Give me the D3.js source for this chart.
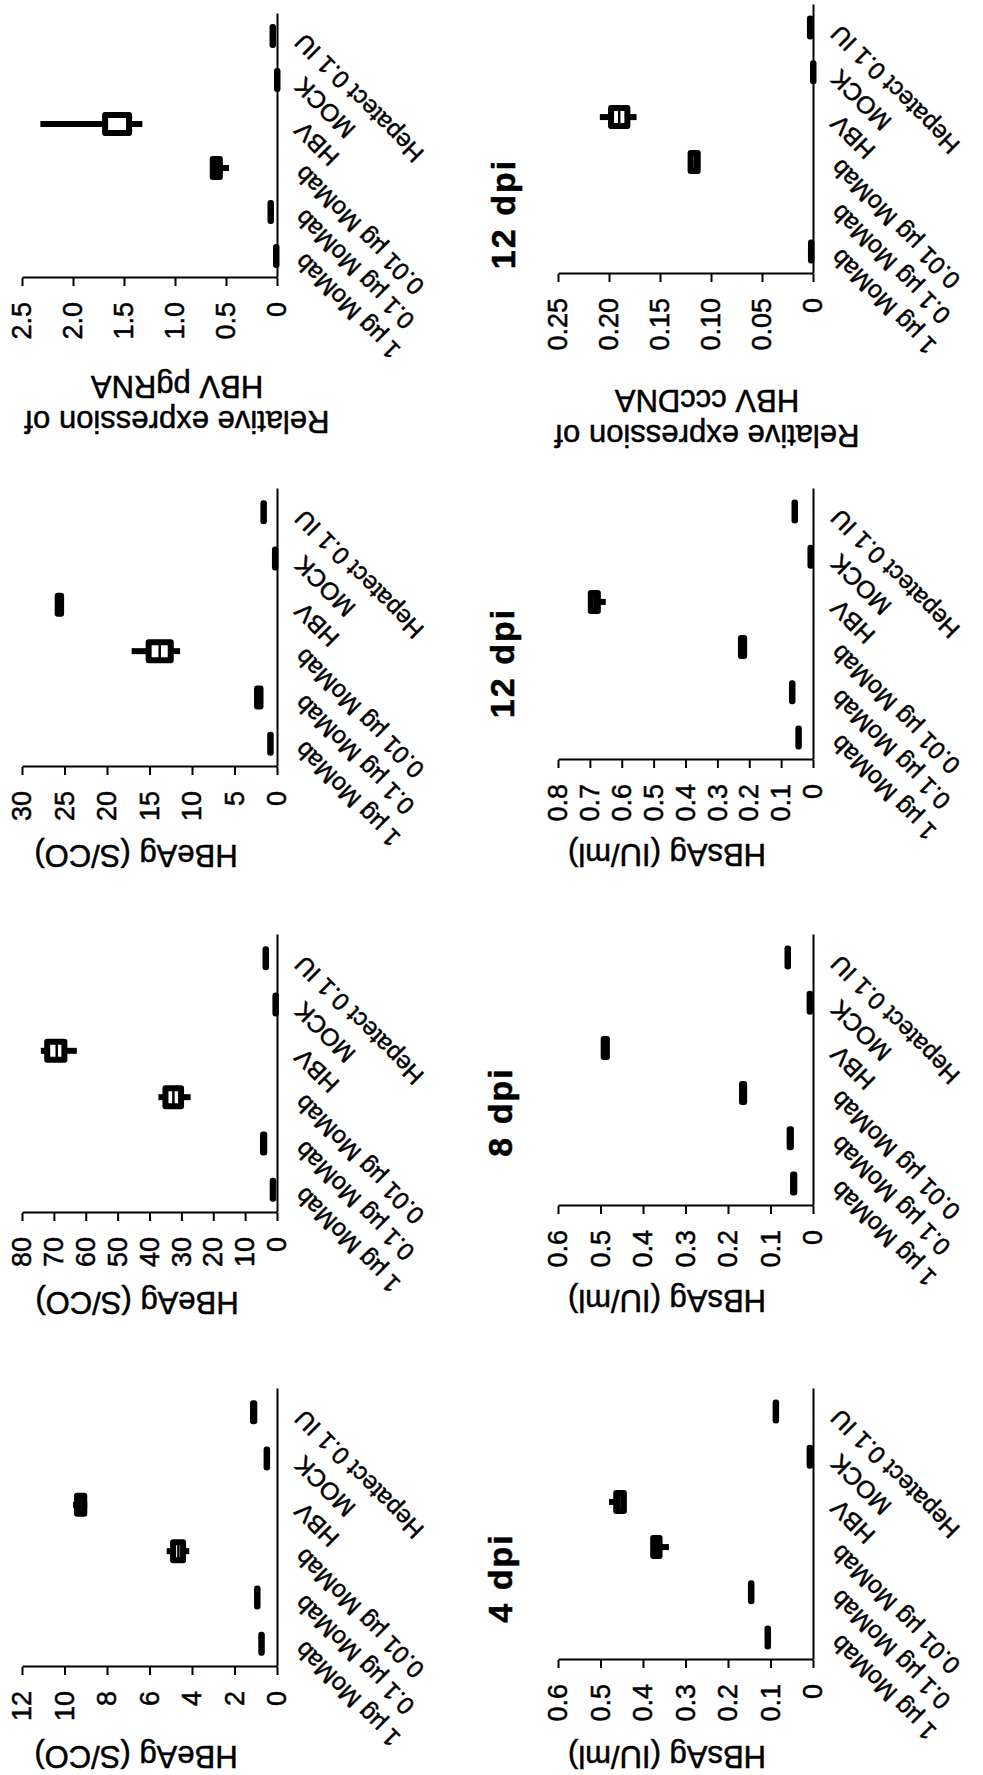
<!DOCTYPE html>
<html>
<head>
<meta charset="utf-8">
<script src="https://cdn.jsdelivr.net/npm/d3@7"></script>
<style>
  body { margin: 0; background: #fff; }
  text { stroke: #000; stroke-width: 0.5px; }
</style>
</head>
<body>
<script>
// groups, bottom to top along the category axis
var categories = ["1 µg MoMab", "0.1 µg MoMab", "0.01 µg MoMab", "HBV", "MOCK", "Hepatect 0.1 IU"];

// box stats per group: [min, q1, median, q3, max]
var hbeag4 = [
    [0.74, 0.74, 0.74, 0.74, 0.74],
    [0.94, 0.94, 0.94, 0.94, 0.94],
    [4.13, 4.42, 4.64, 4.89, 5.19],
    [8.93, 9.07, 9.25, 9.41, 9.6],
    [0.49, 0.49, 0.49, 0.49, 0.49],
    [1.07, 1.07, 1.1, 1.13, 1.13]
];
var hbsag4 = [
    [0.107, 0.107, 0.107, 0.107, 0.107],
    [0.146, 0.146, 0.146, 0.146, 0.146],
    [0.339, 0.361, 0.368, 0.376, 0.376],
    [0.445, 0.445, 0.455, 0.463, 0.48],
    [0.008, 0.008, 0.008, 0.008, 0.008],
    [0.088, 0.088, 0.088, 0.088, 0.088]
];
var hbeag8 = [
    [1.35, 1.35, 1.35, 1.35, 1.35],
    [4.0, 4.0, 4.2, 4.4, 4.4],
    [27.1, 30.1, 32.5, 35.0, 37.2],
    [62.8, 66.7, 69.1, 72.1, 74.1],
    [0.5, 0.5, 0.5, 0.5, 0.5],
    [3.6, 3.6, 3.6, 3.6, 3.6]
];
var hbsag8 = [
    [0.044, 0.044, 0.045, 0.047, 0.047],
    [0.052, 0.052, 0.053, 0.055, 0.055],
    [0.162, 0.162, 0.165, 0.167, 0.167],
    [0.485, 0.485, 0.489, 0.4925, 0.4925],
    [0.008, 0.008, 0.008, 0.008, 0.008],
    [0.06, 0.06, 0.06, 0.06, 0.06]
];
var hbeag12 = [
    [0.8, 0.8, 0.8, 0.8, 0.8],
    [1.94, 1.94, 2.1, 2.35, 2.35],
    [11.4, 12.5, 13.8, 15.1, 17.1],
    [25.4, 25.4, 25.6, 25.8, 25.8],
    [0.24, 0.24, 0.24, 0.24, 0.24],
    [1.6, 1.6, 1.6, 1.6, 1.6]
];
var hbsag12 = [
    [0.046, 0.046, 0.046, 0.046, 0.046],
    [0.066, 0.066, 0.066, 0.066, 0.066],
    [0.216, 0.216, 0.221, 0.226, 0.226],
    [0.65, 0.675, 0.685, 0.697, 0.70],
    [0.008, 0.008, 0.008, 0.008, 0.008],
    [0.058, 0.058, 0.058, 0.058, 0.058]
];
var pgrna12 = [
    [0.01, 0.01, 0.01, 0.01, 0.01],
    [0.064, 0.064, 0.064, 0.064, 0.064],
    [0.47, 0.56, 0.60, 0.63, 0.63],
    [1.32, 1.45, 1.46, 1.685, 2.32],
    [0, 0, 0, 0, 0],
    [0.044, 0.044, 0.044, 0.044, 0.044]
];
var cccdna12 = [
    [0.002, 0.002, 0.002, 0.002, 0.002],
    null,
    [0.113, 0.113, 0.116, 0.120, 0.120],
    [0.173, 0.182, 0.19, 0.198, 0.209],
    [0, 0, 0, 0, 0],
    [0.003, 0.003, 0.003, 0.003, 0.003]
];

var ticksHBeAg4 = [0, 2, 4, 6, 8, 10, 12];
var ticksHBeAg8 = [0, 10, 20, 30, 40, 50, 60, 70, 80];
var ticksHBeAg12 = [0, 5, 10, 15, 20, 25, 30];
var ticksHBsAg6 = [0, 0.1, 0.2, 0.3, 0.4, 0.5, 0.6];
var ticksHBsAg8 = [0, 0.1, 0.2, 0.3, 0.4, 0.5, 0.6, 0.7, 0.8];
var ticksPgRNA = [0, 0.5, 1.0, 1.5, 2.0, 2.5];
var ticksCccDNA = [0, 0.05, 0.10, 0.15, 0.20, 0.25];

var dpiTitles = ["4 dpi", "8 dpi", "12 dpi", "12 dpi"];

var FONT = "'Liberation Sans', Arial, Helvetica, sans-serif";

function fmtDec(n) {
    return function(d) { return d === 0 ? "0" : d3.format("." + n + "f")(d); };
}

// figure is built upright (1775 x 983) and turned a quarter turn to the left
var canvas = d3.select("body").append("svg")
    .attr("width", 983)
    .attr("height", 1775);

var root = canvas.append("g")
    .attr("transform", "translate(0,1775) rotate(-90)");

var panels = [
    {data: hbeag4, ticks: ticksHBeAg4, fmt: d3.format("d"), left: 108, right: 386, top: 22, bottom: 277,
        title: ["HBeAg (S/CO)"], tx: 18.5, ty: 136},
    {data: hbsag4, ticks: ticksHBsAg6, fmt: fmtDec(1), left: 115, right: 386, top: 558, bottom: 813,
        title: ["HBsAg (IU/ml)"], tx: 18.5, ty: 667},
    {data: hbeag8, ticks: ticksHBeAg8, fmt: d3.format("d"), left: 562, right: 840, top: 22, bottom: 277,
        title: ["HBeAg (S/CO)"], tx: 472, ty: 137},
    {data: hbsag8, ticks: ticksHBsAg6, fmt: fmtDec(1), left: 569, right: 840, top: 558, bottom: 813,
        title: ["HBsAg (IU/ml)"], tx: 474, ty: 667},
    {data: hbeag12, ticks: ticksHBeAg12, fmt: d3.format("d"), left: 1008, right: 1286, top: 22, bottom: 277,
        title: ["HBeAg (S/CO)"], tx: 919, ty: 136},
    {data: hbsag12, ticks: ticksHBsAg8, fmt: fmtDec(1), left: 1015, right: 1286, top: 558, bottom: 813,
        title: ["HBsAg (IU/ml)"], tx: 920, ty: 667},
    {data: pgrna12, ticks: ticksPgRNA, fmt: fmtDec(1), left: 1497, right: 1761, top: 22, bottom: 277,
        title: ["Relative expression of", "HBV pgRNA"], tx: 1370, ty: 177},
    {data: cccdna12, ticks: ticksCccDNA, fmt: fmtDec(2), left: 1501, right: 1770, top: 558, bottom: 813,
        title: ["Relative expression of", "HBV cccDNA"], tx: 1356, ty: 707}
];

var dpiPos = [{x: 197, y: 500}, {x: 663, y: 500}, {x: 1112, y: 502}, {x: 1561, y: 503}];

var boxW = 18;
var strokeW = 6;

panels.forEach(function(p) {
    var x = d3.scalePoint().domain(categories).range([p.left, p.right]).padding(0.5);
    var y = d3.scaleLinear().domain([0, d3.max(p.ticks)]).range([p.bottom, p.top]);
    var g = root.append("g");

    var yAxis = g.append("g")
        .attr("transform", "translate(" + p.left + ",0)")
        .call(d3.axisLeft(y).tickValues(p.ticks).tickSizeInner(8).tickSizeOuter(0)
            .tickPadding(16).tickFormat(p.fmt));
    yAxis.attr("font-size", 27).attr("font-family", FONT);
    yAxis.selectAll("path, line").attr("stroke-width", 2);
    yAxis.selectAll("text").attr("fill", "#000");

    var xAxis = g.append("g")
        .attr("transform", "translate(0," + p.bottom + ")")
        .call(d3.axisBottom(x).tickSize(0).tickSizeOuter(0).tickFormat(""));
    xAxis.selectAll("path").attr("stroke-width", 2);

    g.selectAll(".cat")
        .data(categories)
        .join("text")
        .attr("class", "cat")
        .attr("transform", function(d) {
            return "translate(" + (x(d) + 4) + "," + (p.bottom + 28) + ") rotate(-45)";
        })
        .attr("text-anchor", "end")
        .attr("font-family", FONT)
        .attr("font-size", 24.5)
        .text(function(d) { return d; });

    // y axis title, one or two lines
    var t = g.append("text")
        .attr("transform", "translate(" + p.tx + "," + p.ty + ") rotate(-90)")
        .attr("text-anchor", "middle")
        .attr("font-family", FONT)
        .attr("font-size", 31);
    p.title.forEach(function(line, i) {
        t.append("tspan")
            .attr("x", 0)
            .attr("dy", i === 0 ? (p.title.length === 1 ? "0.35em" : "-0.2em") : "1.15em")
            .text(line);
    });

    // boxes
    p.data.forEach(function(s, i) {
        if (!s) return;
        var cx = x(categories[i]);
        var bg = g.append("g");
        if (s[0] < s[1]) {
            bg.append("line")
                .attr("x1", cx).attr("x2", cx)
                .attr("y1", y(s[0])).attr("y2", y(s[1]))
                .attr("stroke", "#000").attr("stroke-width", strokeW);
        }
        if (s[4] > s[3]) {
            bg.append("line")
                .attr("x1", cx).attr("x2", cx)
                .attr("y1", y(s[4])).attr("y2", y(s[3]))
                .attr("stroke", "#000").attr("stroke-width", strokeW);
        }
        bg.append("rect")
            .attr("x", cx - boxW / 2)
            .attr("y", y(s[3]))
            .attr("width", boxW)
            .attr("height", Math.max(y(s[1]) - y(s[3]), 0.5))
            .attr("fill", "#fff")
            .attr("stroke", "#000")
            .attr("stroke-width", strokeW)
            .attr("stroke-linejoin", "round");
        if (y(s[1]) - y(s[3]) > strokeW) {
            bg.append("line")
                .attr("x1", cx - boxW / 2).attr("x2", cx + boxW / 2)
                .attr("y1", y(s[2])).attr("y2", y(s[2]))
                .attr("stroke", "#000").attr("stroke-width", 2.5);
        }
    });
});

root.selectAll(".dpi")
    .data(dpiTitles)
    .join("text")
    .attr("class", "dpi")
    .attr("x", function(d, i) { return dpiPos[i].x; })
    .attr("y", function(d, i) { return dpiPos[i].y; })
    .attr("dy", "0.35em")
    .attr("text-anchor", "middle")
    .attr("font-family", FONT)
    .attr("font-weight", "bold")
    .attr("font-size", 34)
    .attr("letter-spacing", 2)
    .text(function(d) { return d; });
</script>
</body>
</html>
